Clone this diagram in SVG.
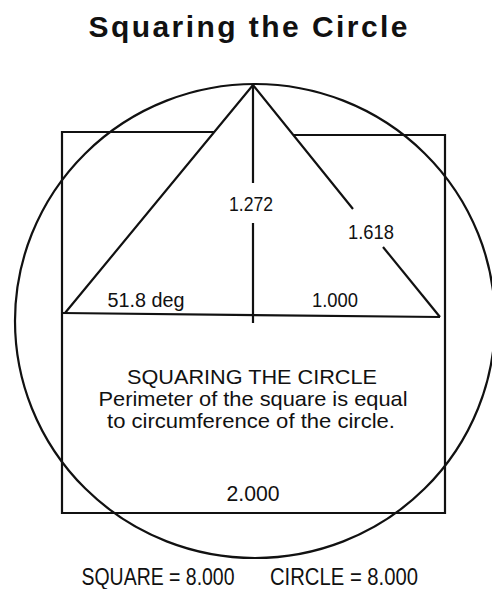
<svg xmlns="http://www.w3.org/2000/svg" width="492" height="589" viewBox="0 0 492 589">
<style>
.ln{fill:none;stroke:#111;stroke-width:2.2;stroke-linecap:butt;stroke-linejoin:miter}
.t{font-family:"Liberation Sans",Arial,sans-serif;fill:#111;text-anchor:middle}
</style>
<rect width="492" height="589" fill="#fff"/>
<text class="t" x="248" y="37" font-size="30" font-weight="bold" textLength="319" lengthAdjust="spacing">Squaring the Circle</text>
<g id="circle"><ellipse class="ln" cx="255" cy="321" rx="240" ry="237"/></g>
<g id="square"><path class="ln" d="M214,132 L62,132 L62,513 L445,513 L445,135 L293,135"/></g>
<g id="triangle">
<path class="ln" d="M65,313 L253,85 L353,209"/>
<path class="ln" d="M383,247 L440,317"/>
<path class="ln" d="M62,313 L440,317"/>
<path class="ln" d="M253,85 L253,183 M253,223 L253,323"/>
</g>
<g id="labels">
<text class="t" x="251" y="211" font-size="20" textLength="44" lengthAdjust="spacingAndGlyphs">1.272</text>
<text class="t" x="371" y="239" font-size="20" textLength="46" lengthAdjust="spacingAndGlyphs">1.618</text>
<text class="t" x="146" y="307" font-size="20" textLength="77" lengthAdjust="spacingAndGlyphs">51.8 deg</text>
<text class="t" x="335" y="307" font-size="20" textLength="46" lengthAdjust="spacingAndGlyphs">1.000</text>
<text class="t" x="252" y="384" font-size="21" textLength="250" lengthAdjust="spacingAndGlyphs">SQUARING THE CIRCLE</text>
<text class="t" x="253" y="406" font-size="21" textLength="309" lengthAdjust="spacingAndGlyphs">Perimeter of the square is equal</text>
<text class="t" x="251" y="428" font-size="21" textLength="288" lengthAdjust="spacingAndGlyphs">to circumference of the circle.</text>
<text class="t" x="253" y="501" font-size="22" textLength="53" lengthAdjust="spacingAndGlyphs">2.000</text>
<text class="t" x="158" y="585" font-size="23" textLength="153" lengthAdjust="spacingAndGlyphs">SQUARE = 8.000</text>
<text class="t" x="344" y="585" font-size="23" textLength="148" lengthAdjust="spacingAndGlyphs">CIRCLE =  8.000</text>
</g>
</svg>
